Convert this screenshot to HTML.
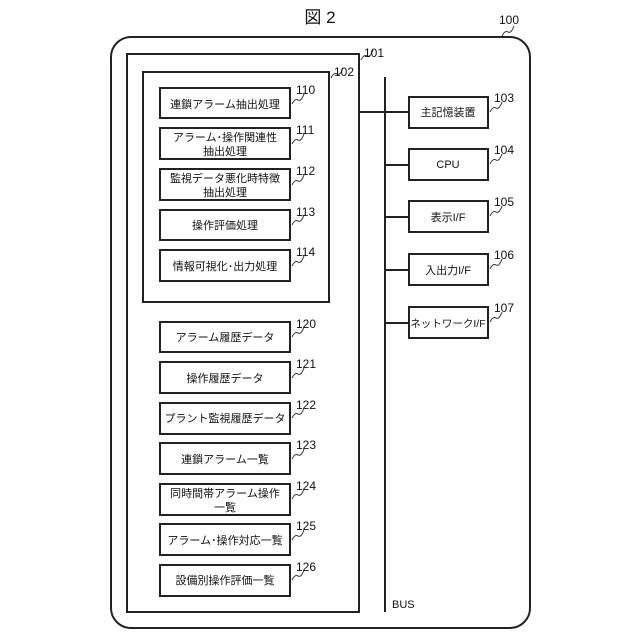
<!DOCTYPE html>
<html><head><meta charset="utf-8"><style>
html,body{margin:0;padding:0;background:#fff}
svg{display:block}
text{font-family:"Liberation Sans","Noto Sans CJK JP",sans-serif;fill:#111}
</style></head><body>
<svg width="640" height="640" viewBox="0 0 640 640" xmlns="http://www.w3.org/2000/svg">
<g fill="none" stroke="#222" stroke-width="2">
<rect x="111" y="37" width="419" height="591" rx="20"/>
<rect x="127" y="54" width="232" height="558"/>
<rect x="143" y="72" width="186" height="230"/>
<rect x="160" y="88" width="130" height="30"/>
<rect x="160" y="128" width="130" height="31"/>
<rect x="160" y="169" width="130" height="31"/>
<rect x="160" y="210" width="130" height="30"/>
<rect x="160" y="250" width="130" height="31"/>
<rect x="160" y="322" width="130" height="30"/>
<rect x="160" y="362" width="130" height="31"/>
<rect x="160" y="403" width="130" height="31"/>
<rect x="160" y="443" width="130" height="31"/>
<rect x="160" y="484" width="130" height="31"/>
<rect x="160" y="524" width="130" height="31"/>
<rect x="160" y="565" width="130" height="31"/>
<rect x="409" y="97" width="79" height="31"/>
<rect x="409" y="149" width="79" height="31"/>
<rect x="409" y="201" width="79" height="31"/>
<rect x="409" y="254" width="79" height="31"/>
<rect x="409" y="307" width="79" height="31"/>
<line x1="385" y1="77" x2="385" y2="612"/>
<line x1="359" y1="112" x2="409" y2="112"/>
<line x1="385" y1="165" x2="409" y2="165"/>
<line x1="385" y1="217" x2="409" y2="217"/>
<line x1="385" y1="270" x2="409" y2="270"/>
<line x1="385" y1="323" x2="409" y2="323"/>
</g>
<g fill="none" stroke="#333" stroke-width="1">
<path d="M292 104 q3 -6 6 -4 t6 -6"/>
<path d="M292 144 q3 -6 6 -4 t6 -6"/>
<path d="M292 185 q3 -6 6 -4 t6 -6"/>
<path d="M292 225 q3 -6 6 -4 t6 -6"/>
<path d="M292 266 q3 -6 6 -4 t6 -6"/>
<path d="M292 337 q3 -6 6 -4 t6 -6"/>
<path d="M292 378 q3 -6 6 -4 t6 -6"/>
<path d="M292 418 q3 -6 6 -4 t6 -6"/>
<path d="M292 459 q3 -6 6 -4 t6 -6"/>
<path d="M292 499 q3 -6 6 -4 t6 -6"/>
<path d="M292 540 q3 -6 6 -4 t6 -6"/>
<path d="M292 580 q3 -6 6 -4 t6 -6"/>
<path d="M490 112 q3 -6 6 -4 t6 -6"/>
<path d="M490 164 q3 -6 6 -4 t6 -6"/>
<path d="M490 216 q3 -6 6 -4 t6 -6"/>
<path d="M490 269 q3 -6 6 -4 t6 -6"/>
<path d="M490 322 q3 -6 6 -4 t6 -6"/>
<path d="M331 78 q3 -6 6 -4 t6 -6"/>
<path d="M361 60 q3 -6 6 -4 t6 -6"/>
<path d="M502 36 q3 -6 6 -4 t6 -6"/>
</g>
<text x="320" y="23" font-size="17" text-anchor="middle">図 2</text>
<g font-size="12">
<text x="499" y="24">100</text>
<text x="364" y="57">101</text>
<text x="334" y="76">102</text>
<text x="296" y="94">110</text>
<text x="296" y="134">111</text>
<text x="296" y="175">112</text>
<text x="296" y="216">113</text>
<text x="296" y="256">114</text>
<text x="296" y="328">120</text>
<text x="296" y="368">121</text>
<text x="296" y="409">122</text>
<text x="296" y="449">123</text>
<text x="296" y="490">124</text>
<text x="296" y="530">125</text>
<text x="296" y="571">126</text>
<text x="494" y="102">103</text>
<text x="494" y="154">104</text>
<text x="494" y="206">105</text>
<text x="494" y="259">106</text>
<text x="494" y="312">107</text>
</g>
<g font-size="11" text-anchor="middle">
<text x="225" y="108">連鎖アラーム抽出処理</text>
<text x="225" y="141">アラーム･操作関連性</text>
<text x="225" y="155">抽出処理</text>
<text x="225" y="182">監視データ悪化時特徴</text>
<text x="225" y="196">抽出処理</text>
<text x="225" y="229">操作評価処理</text>
<text x="225" y="270">情報可視化･出力処理</text>
<text x="225" y="341">アラーム履歴データ</text>
<text x="225" y="382">操作履歴データ</text>
<text x="225" y="422">プラント監視履歴データ</text>
<text x="225" y="463">連鎖アラーム一覧</text>
<text x="225" y="497">同時間帯アラーム操作</text>
<text x="225" y="511">一覧</text>
<text x="225" y="544">アラーム･操作対応一覧</text>
<text x="225" y="584">設備別操作評価一覧</text>
<text x="448" y="116">主記憶装置</text>
<text x="448" y="168">CPU</text>
<text x="448" y="221">表示I/F</text>
<text x="448" y="274">入出力I/F</text>
<text x="448" y="327" font-size="10.5">ネットワークI/F</text>
</g>
<text x="392" y="608" font-size="11">BUS</text>
</svg>
</body></html>
